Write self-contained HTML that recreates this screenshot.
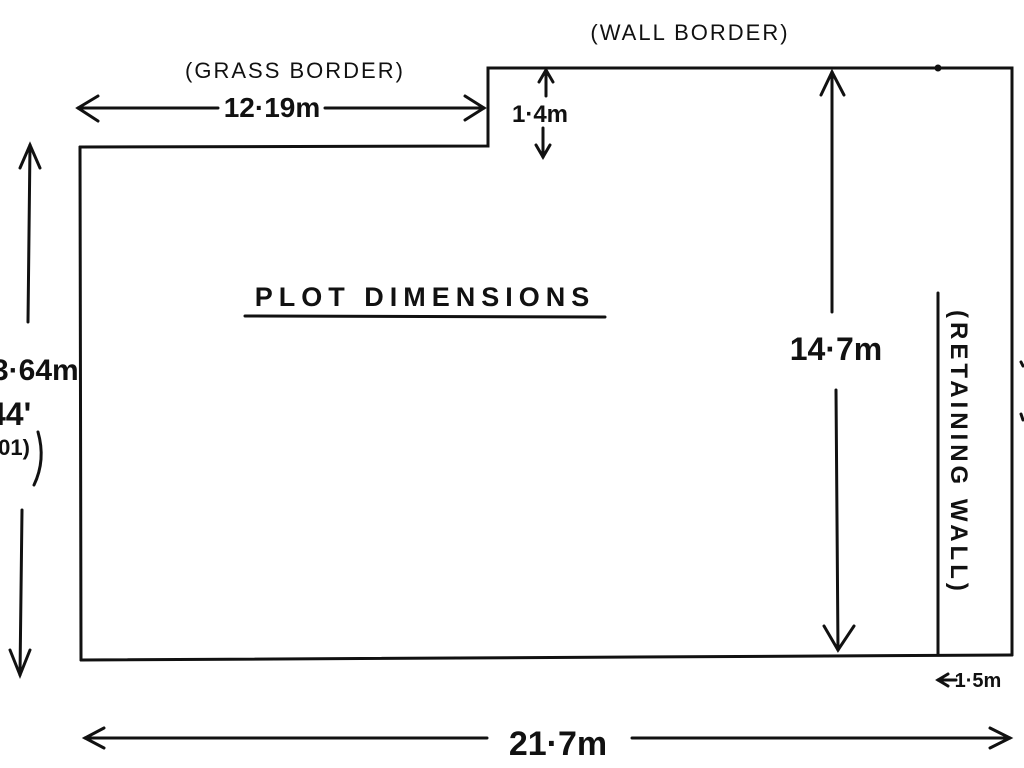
<!DOCTYPE html>
<html><head><meta charset="utf-8"><style>
html,body{margin:0;padding:0;background:#fff;width:1024px;height:768px;overflow:hidden}
text{font-family:"Liberation Sans",sans-serif;fill:#111}
</style></head><body>
<svg width="1024" height="768" viewBox="0 0 1024 768" xmlns="http://www.w3.org/2000/svg">
<g stroke="#111" stroke-width="3" fill="none" stroke-linecap="round">
<polyline points="80,147 488,146 488,68 1012,68 1012,655"/>
<line x1="80" y1="147" x2="81" y2="660"/>
<line x1="81" y1="660" x2="1012" y2="655"/>
<line x1="938" y1="293" x2="938" y2="655"/>
<line x1="78" y1="108" x2="218" y2="108"/>
<line x1="325" y1="108" x2="484" y2="108"/>
<polyline points="98,96 78,108 98,121"/>
<polyline points="465,96 484,108 465,120"/>
<line x1="546" y1="70" x2="546" y2="96"/>
<polyline points="539,82 546,70 553,82"/>
<line x1="543" y1="128" x2="543" y2="157"/>
<polyline points="536,145 543,157 550,145"/>
<line x1="832" y1="72" x2="832" y2="312"/>
<polyline points="821,95 832,72 844,95"/>
<line x1="836" y1="390" x2="838" y2="650"/>
<polyline points="824,626 838,650 854,626"/>
<line x1="30" y1="145" x2="28" y2="322"/>
<polyline points="20,168 30,145 40,168"/>
<line x1="22" y1="510" x2="20" y2="675"/>
<polyline points="10,650 20,675 30,650"/>
<path d="M38,432 Q46,460 34,485"/>
<line x1="85" y1="738" x2="487" y2="738"/>
<polyline points="104,728 85,738 104,748"/>
<line x1="632" y1="738" x2="1010" y2="738"/>
<polyline points="990,728 1010,738 990,748"/>
<line x1="245" y1="316" x2="605" y2="317"/>
<polyline points="948,674 938,680 948,686"/>
<line x1="938" y1="680" x2="956" y2="680"/>
<circle cx="938" cy="68" r="2" fill="#111"/>
<line x1="1021" y1="362" x2="1023" y2="366"/>
<line x1="1021" y1="414" x2="1023" y2="420"/>
</g>
<text x="295" y="78" font-size="22" text-anchor="middle" letter-spacing="2">(GRASS BORDER)</text>
<text x="690" y="40" font-size="22" text-anchor="middle" letter-spacing="2">(WALL BORDER)</text>
<text x="272" y="117" font-size="28" text-anchor="middle" font-weight="bold">12·19m</text>
<text x="540" y="122" font-size="24" text-anchor="middle" font-weight="bold">1·4m</text>
<text x="836" y="360" font-size="32" text-anchor="middle" font-weight="bold">14·7m</text>
<text x="425" y="306" font-size="27" text-anchor="middle" letter-spacing="6" font-weight="bold">PLOT DIMENSIONS</text>
<text x="558" y="755" font-size="34" text-anchor="middle" font-weight="bold">21·7m</text>
<text x="978" y="687" font-size="20" text-anchor="middle" font-weight="bold">1·5m</text>
<text x="-8" y="380" font-size="30" font-weight="bold">3·64m</text>
<text x="-12" y="425" font-size="32" font-weight="bold">44'</text>
<text x="-8" y="455" font-size="22" font-weight="bold">.01)</text>
<text transform="translate(951,310) rotate(90)" font-size="24" letter-spacing="4" font-weight="bold">(RETAINING WALL)</text>
</svg>
</body></html>
